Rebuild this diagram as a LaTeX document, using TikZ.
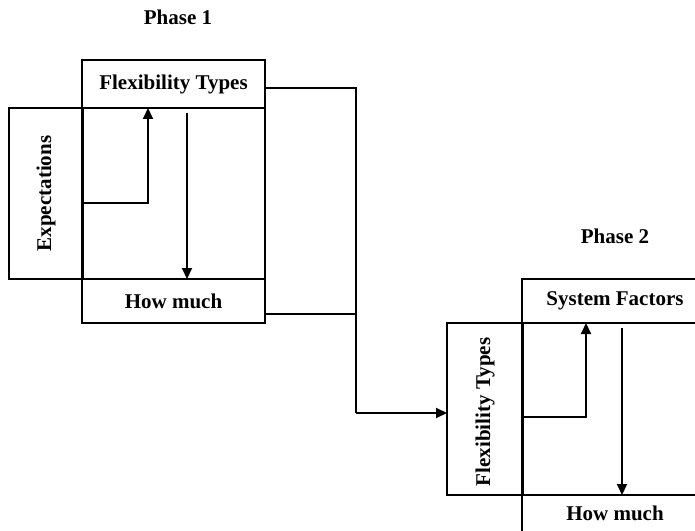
\documentclass[tikz,border=0pt]{standalone}
\usepackage{fontspec}
\setmainfont{Liberation Serif}
\usetikzlibrary{arrows.meta,calc}
\begin{document}
\begin{tikzpicture}[x=1bp,y=-1bp,
  lab/.style={font=\fontsize{21bp}{24bp}\selectfont\bfseries},
  box/.style={draw, line width=2bp, inner sep=0pt, outer sep=0pt, anchor=north west, lab},
  conn/.style={line width=2bp},
  arr/.style={conn, -{Triangle[length=11bp,width=10bp]}}]
\clip (0,0) rectangle (695,531);
\useasboundingbox (0,0) rectangle (695,531);
% Phase 1
\node[lab] (ph1) at (178,17) {Phase 1};
\node[box, minimum width=183bp, minimum height=48bp] (p1top) at (82,60) {Flexibility Types};
\node[box, minimum width=183bp, minimum height=171bp] (p1mid) at (82,108) {};
\node[box, minimum width=183bp, minimum height=44bp] (p1bot) at (82,279) {How much};
\node[box, minimum width=74bp, minimum height=171bp] (exp) at (9,108) {};
\node[lab, rotate=90] (expt) at (exp.center) {Expectations};
% Phase 2
\node[lab] (ph2) at (615,236) {Phase 2};
\node[box, minimum width=186bp, minimum height=44bp] (p2top) at (522,279) {System Factors};
\node[box, minimum width=186bp, minimum height=172bp] (p2mid) at (522,323) {};
\node[box, minimum width=186bp, minimum height=40bp] (p2bot) at (522,495) {};
\node[lab] (p2bott) at (615,513) {How much};
\node[box, minimum width=76bp, minimum height=172bp] (flex2) at (447,323) {};
\node[lab, rotate=90] (flex2t) at ($(flex2.center)+(0,3)$) {Flexibility Types};
% internal arrows phase 1
\coordinate (a1s) at (83,203);
\coordinate (a1t) at (148,108);
\draw[arr] (a1s) -| (a1t);
\coordinate (a2s) at (187,113);
\draw[arr] (a2s) -- (a2s |- p1bot.north);
% internal arrows phase 2
\coordinate (b1s) at (523,417);
\coordinate (b1t) at (586,323);
\draw[arr] (b1s) -| (b1t);
\coordinate (b2s) at (622,328);
\draw[arr] (b2s) -- (b2s |- p2bot.north);
% connectors between phases
\coordinate (bus) at (356,413);
\coordinate (c1) at ($(p1top.east)+(0,4)$);
\coordinate (c2) at ($(p1bot.east)+(0,13)$);
\draw[conn] (c1) -- (c1 -| bus) -- (bus);
\draw[conn] (c2) -- (c2 -| bus);
\draw[arr] (bus) -- (bus -| flex2.west);
\end{tikzpicture}
\end{document}
